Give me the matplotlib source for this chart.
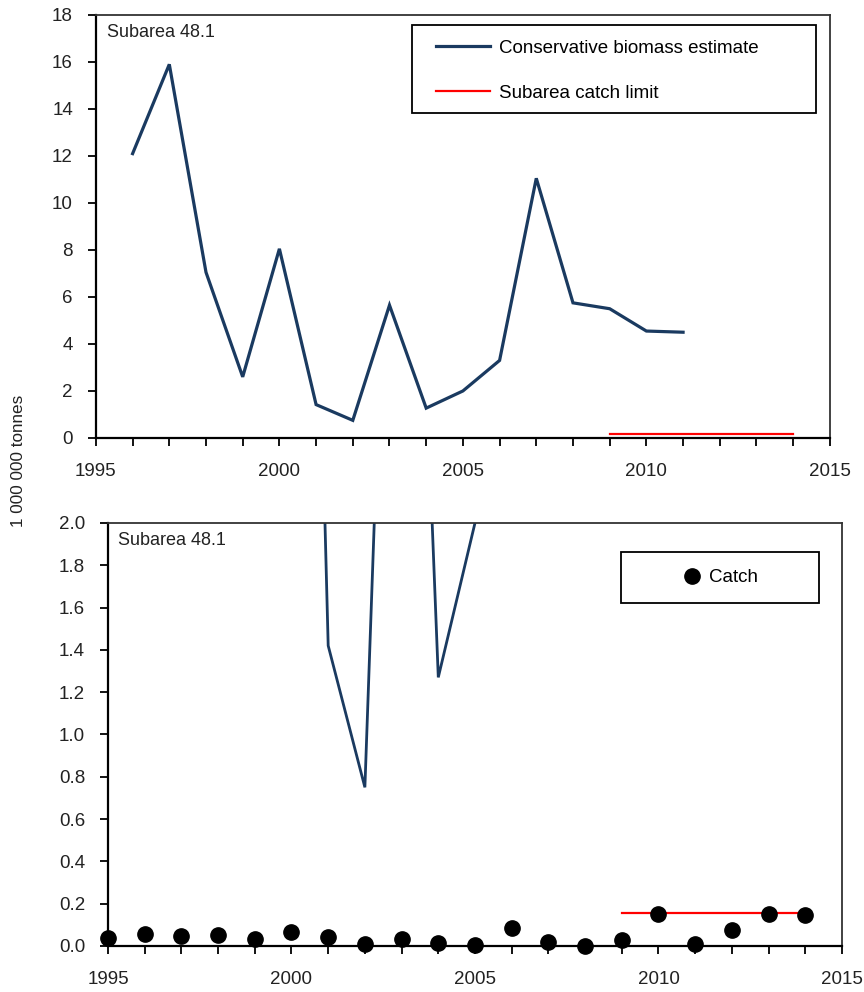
import numpy as np
import matplotlib.pyplot as plt
from matplotlib.patches import Rectangle
from matplotlib.ticker import MultipleLocator, FormatStrFormatter

plt.rcParams['font.family'] = ['Liberation Sans', 'DejaVu Sans']

# data
biomass_years = [1996, 1997, 1998, 1999, 2000, 2001, 2002, 2003,
                 2004, 2005, 2006, 2007, 2008, 2009, 2010, 2011]
biomass = [12.1, 15.9, 7.05, 2.6, 8.05, 1.42, 0.75, 5.65,
           1.27, 2.0, 3.3, 11.05, 5.75, 5.5, 4.55, 4.5]

limit_years = [2009, 2014]
catch_limit = [0.155, 0.155]

catch_years = list(range(1995, 2015))
catch = [0.036, 0.057, 0.047, 0.053, 0.035, 0.068, 0.044, 0.008, 0.032, 0.013,
         0.003, 0.085, 0.017, 0.0, 0.030, 0.150, 0.008, 0.074, 0.150, 0.145]

navy = '#1a3a60'
tick_col = '#222222'

fig = plt.figure(figsize=(8.64, 9.92), dpi=100)
ax1 = fig.add_axes([0.111, 0.5585, 0.8495, 0.4264])
ax2 = fig.add_axes([0.125, 0.0464, 0.8495, 0.4264])


def style(ax):
    ax.set_xlim(1995, 2015)
    ax.xaxis.set_major_locator(MultipleLocator(5))
    ax.xaxis.set_minor_locator(MultipleLocator(1))
    ax.tick_params(axis='both', which='both', direction='out', length=6,
                   width=1.3, labelsize=13.5, colors='black', labelcolor=tick_col)
    ax.tick_params(axis='x', pad=12)
    ax.tick_params(axis='y', pad=10.5)
    for s in ['left', 'bottom']:
        ax.spines[s].set_linewidth(1.6)
    for s in ['top', 'right']:
        ax.spines[s].set_linewidth(1.3)
        ax.spines[s].set_color('#333333')


# --- top panel
ax1.plot(biomass_years, biomass, color=navy, lw=2.3,
         label='Conservative biomass estimate', solid_joinstyle='miter')
ax1.plot(limit_years, catch_limit, color='#ff0000', lw=1.6,
         label='Subarea catch limit')
ax1.set_ylim(0, 18)
ax1.yaxis.set_major_locator(MultipleLocator(2))
style(ax1)
ax1.text(0.015, 0.978, 'Subarea 48.1', transform=ax1.transAxes,
         ha='left', va='top', fontsize=13, color=tick_col)
ax1.add_patch(Rectangle((0.43, 0.768), 0.551, 0.208, transform=ax1.transAxes,
                        fill=False, lw=1.3, ec='black', zorder=5))
ax1.legend(loc='center left', bbox_to_anchor=(0.44, 0.868), frameon=False,
           fontsize=13.5, handlelength=2.9, handletextpad=0.5, labelspacing=1.5)

# --- bottom panel (zoomed in)
ax2.plot(biomass_years, biomass, color=navy, lw=2.0, solid_joinstyle='miter')
ax2.plot(limit_years, catch_limit, color='#ff0000', lw=1.6)
ax2.plot(catch_years, catch, 'o', color='black', ms=11, ls='none',
         label='Catch', clip_on=False, zorder=4)
ax2.set_ylim(0, 2.0)
ax2.yaxis.set_major_locator(MultipleLocator(0.2))
ax2.yaxis.set_major_formatter(FormatStrFormatter('%.1f'))
style(ax2)
ax2.text(0.014, 0.978, 'Subarea 48.1', transform=ax2.transAxes,
         ha='left', va='top', fontsize=13, color=tick_col)
ax2.add_patch(Rectangle((0.699, 0.811), 0.27, 0.12, transform=ax2.transAxes,
                        fill=False, lw=1.3, ec='black', zorder=5))
ax2.legend(loc='center', bbox_to_anchor=(0.834, 0.871), frameon=False,
           fontsize=13.5, handlelength=1.0, handletextpad=0.4)

fig.text(0.021, 0.535, '1 000 000 tonnes', rotation=90, ha='center',
         va='center', fontsize=12.3, color=tick_col)

fig.savefig('out.png', dpi=100)
